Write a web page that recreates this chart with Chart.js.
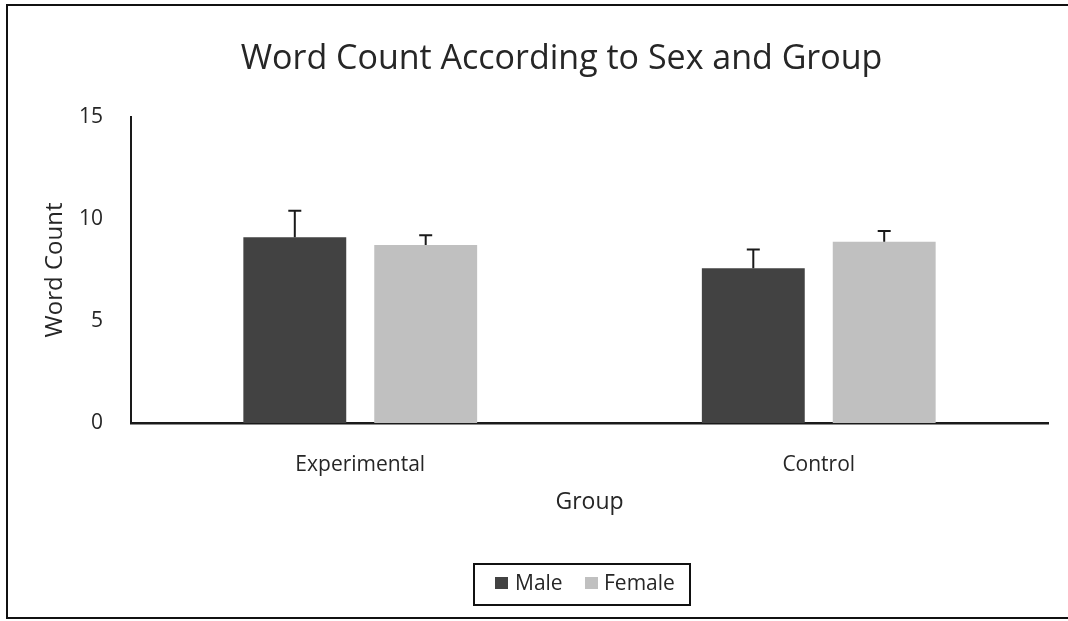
<!DOCTYPE html>
<html>
<head>
<meta charset="utf-8">
<script src="https://cdn.jsdelivr.net/npm/chart.js@4.4.0/dist/chart.umd.min.js"></script>
<style>
  html, body { margin: 0; padding: 0; background: #ffffff; }
  #wrap { width: 1068px; height: 621px; position: relative; overflow: hidden; }
</style>
</head>
<body>
<div id="wrap"><canvas id="c" width="1068" height="621"></canvas></div>
<script>
// ---- data ----
const chartTitle = 'Word Count According to Sex and Group';
const categories = ['Experimental', 'Control'];
const seriesNames = ['Male', 'Female'];
const maleValues = [9.10, 7.58];
const femaleValues = [8.73, 8.89];
const maleErrors = [1.31, 0.92];
const femaleErrors = [0.47, 0.52];
const yTicks = [0, 5, 10, 15];
const xAxisTitle = 'Group';
const yAxisTitle = 'Word Count';

// ---- styles ----
const FONT = "'Open Sans', 'DejaVu Sans', sans-serif";
const maleColor = '#424242';
const femaleColor = '#c0c0c0';
const inkColor = '#1a1a1a';
const textColor = '#262626';

const errorBarsPlugin = {
  id: 'errorBars',
  afterDatasetsDraw(chart) {
    const ctx = chart.ctx;
    const yScale = chart.scales.y;
    chart.data.datasets.forEach((ds, di) => {
      const meta = chart.getDatasetMeta(di);
      meta.data.forEach((bar, i) => {
        const v = ds.data[i];
        const e = ds.errors[i];
        const yTop = yScale.getPixelForValue(v + e);
        const yBase = yScale.getPixelForValue(v);
        ctx.save();
        ctx.strokeStyle = inkColor;
        ctx.lineWidth = 2;
        ctx.beginPath();
        ctx.moveTo(bar.x, yBase);
        ctx.lineTo(bar.x, yTop);
        ctx.moveTo(bar.x - 6.5, yTop);
        ctx.lineTo(bar.x + 6.5, yTop);
        ctx.stroke();
        ctx.restore();
      });
    });
  }
};

const decorPlugin = {
  id: 'decor',
  afterDraw(chart) {
    const ctx = chart.ctx;
    ctx.save();
    // outer frame (top, left, bottom edges; right edge lies outside the picture)
    ctx.strokeStyle = '#111111';
    ctx.lineWidth = 2;
    ctx.beginPath();
    ctx.moveTo(1068, 5);
    ctx.lineTo(7, 5);
    ctx.lineTo(7, 618);
    ctx.lineTo(1068, 618);
    ctx.stroke();
    // title
    ctx.fillStyle = textColor;
    ctx.font = "34px " + FONT;
    ctx.textAlign = 'center';
    ctx.textBaseline = 'alphabetic';
    ctx.fillText(chartTitle, 561.5, 69);
    // legend
    ctx.lineWidth = 2;
    ctx.strokeStyle = '#111111';
    ctx.strokeRect(474, 564, 216, 41);
    ctx.font = "21px " + FONT;
    ctx.textAlign = 'left';
    const items = [
      { x: 495, tx: 515, label: chart.data.datasets[0].label, color: chart.data.datasets[0].backgroundColor },
      { x: 585, tx: 604, label: chart.data.datasets[1].label, color: chart.data.datasets[1].backgroundColor }
    ];
    items.forEach(it => {
      ctx.fillStyle = it.color;
      ctx.fillRect(it.x, 577, 13, 12);
      ctx.fillStyle = textColor;
      ctx.fillText(it.label, it.tx, 590);
    });
    ctx.restore();
  }
};

new Chart(document.getElementById('c'), {
  type: 'bar',
  data: {
    labels: categories,
    datasets: [
      { label: seriesNames[0], data: maleValues, errors: maleErrors, backgroundColor: maleColor, borderWidth: 0,
        categoryPercentage: 0.571, barPercentage: 0.786 },
      { label: seriesNames[1], data: femaleValues, errors: femaleErrors, backgroundColor: femaleColor, borderWidth: 0,
        categoryPercentage: 0.571, barPercentage: 0.786 }
    ]
  },
  options: {
    responsive: false,
    animation: false,
    devicePixelRatio: 1,
    layout: { padding: { left: 0, right: 20, top: 117, bottom: 98 } },
    plugins: {
      legend: { display: false },
      title: { display: false },
      tooltip: { enabled: false }
    },
    scales: {
      x: {
        grid: { display: false },
        border: { display: true, color: inkColor, width: 2.5 },
        ticks: { color: textColor, font: { family: FONT, size: 21 }, padding: 21 },
        title: { display: true, text: xAxisTitle, color: textColor, font: { family: FONT, size: 23 }, padding: { top: 0, bottom: 7 } },
        afterFit(scale) { scale.height = 100; }
      },
      y: {
        min: 0, max: 15,
        afterBuildTicks(scale) { scale.ticks = yTicks.map(v => ({ value: v })); },
        grid: { display: false },
        border: { display: true, color: inkColor, width: 2 },
        ticks: { color: textColor, font: { family: FONT, size: 21 }, padding: 20 },
        title: { display: true, text: yAxisTitle, color: textColor, font: { family: FONT, size: 24 }, padding: { top: 41, bottom: 0 } },
        afterFit(scale) { scale.width = 131; }
      }
    }
  },
  plugins: [errorBarsPlugin, decorPlugin]
});
</script>
</body>
</html>
